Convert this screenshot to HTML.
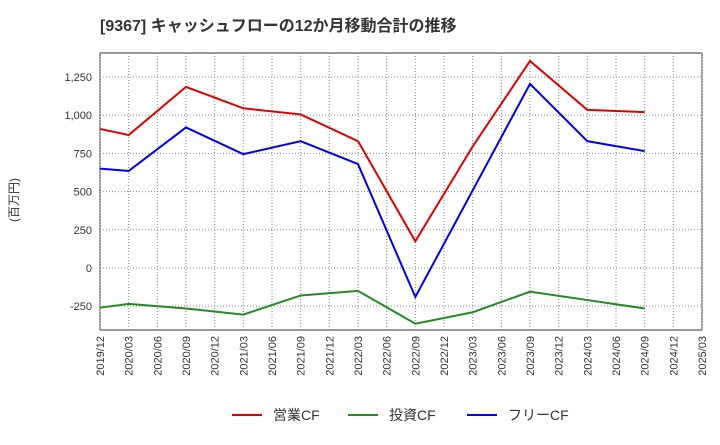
<!DOCTYPE html>
<html><head><meta charset="utf-8"><style>
body{margin:0;background:#fff;font-family:"Liberation Sans","Noto Sans CJK JP",sans-serif}
text{font-family:"Liberation Sans","Noto Sans CJK JP",sans-serif}
</style></head><body>
<svg id="c" width="720" height="440" xmlns="http://www.w3.org/2000/svg"></svg>
<script>
const categories=["2019/12","2020/03","2020/06","2020/09","2020/12","2021/03","2021/06","2021/09","2021/12","2022/03","2022/06","2022/09","2022/12","2023/03","2023/06","2023/09","2023/12","2024/03","2024/06","2024/09","2024/12","2025/03"];
const operatingCF=[910,870,null,1185,null,1045,null,1005,null,830,null,175,null,795,null,1355,null,1035,null,1020,null,null];
const investingCF=[-260,-235,null,-265,null,-305,null,-180,null,-150,null,-365,null,-290,null,-155,null,-210,null,-265,null,null];
const freeCF=[650,635,null,920,null,745,null,830,null,680,null,-190,null,null,null,1205,null,830,null,765,null,null];
const yTicks=[-250,0,250,500,750,1000,1250];
const yTickLabels=["-250","0","250","500","750","1,000","1,250"];
const NS="http://www.w3.org/2000/svg",svg=document.getElementById('c');
const L=100,R=702,T=53,B=330,yMin=-406,yMax=1407;
const x=i=>L+i*(R-L)/(categories.length-1);
const y=v=>B-(v-yMin)/(yMax-yMin)*(B-T);
function mk(t,a,p){const e=document.createElementNS(NS,t);for(const k in a)e.setAttribute(k,a[k]);(p||svg).appendChild(e);return e;}
const title=mk('text',{x:100,y:31,'font-size':16,'font-weight':'bold',fill:'#333'});title.textContent="[9367]  キャッシュフローの12か月移動合計の推移";

const frame=mk('rect',{x:L,y:T,width:R-L,height:B-T,fill:'#fff',stroke:'#333','stroke-width':1});

categories.forEach((c,i)=>{
 const g=mk('line',{x1:x(i),x2:x(i),y1:T,y2:B,stroke:'#888','stroke-dasharray':'1,2'});
 
 const t=mk('text',{x:0,y:0,'font-size':11,fill:'#333','text-anchor':'end',transform:`translate(${x(i)+4},${B+6}) rotate(-90)`});t.textContent=c;
 
});
yTicks.forEach((v,i)=>{
 const g=mk('line',{x1:L,x2:R,y1:y(v),y2:y(v),stroke:'#888','stroke-dasharray':'1,2'});
 
 const t=mk('text',{x:L-8,y:y(v)+4,'font-size':11,fill:'#333','text-anchor':'end'});t.textContent=yTickLabels[i];
 
});
const yl=mk('text',{x:0,y:0,'font-size':12,fill:'#333','text-anchor':'middle',transform:'translate(18,200) rotate(-90)'});yl.textContent="(百万円)";

function series(d,col,name){
 const pts=[];d.forEach((v,i)=>{if(v!==null)pts.push(x(i)+','+y(v));});
 const p=mk('polyline',{points:pts.join(' '),fill:'none',stroke:col,'stroke-width':2});
 
}
series(operatingCF,'#e00000','operating-cf-line');
series(investingCF,'#228b22','investing-cf-line');
series(freeCF,'#0000ee','free-cf-line');
[["営業CF",'#e00000',232],["投資CF",'#228b22',348],["フリーCF",'#0000ee',467]].forEach(([n,c,lx])=>{
 const g=mk('g',{});
 mk('line',{x1:lx,x2:lx+30,y1:415,y2:415,stroke:c,'stroke-width':2},g);
 const t=mk('text',{x:lx+41,y:420,'font-size':14,fill:'#333'},g);t.textContent=n;
});
</script>
</body></html>
